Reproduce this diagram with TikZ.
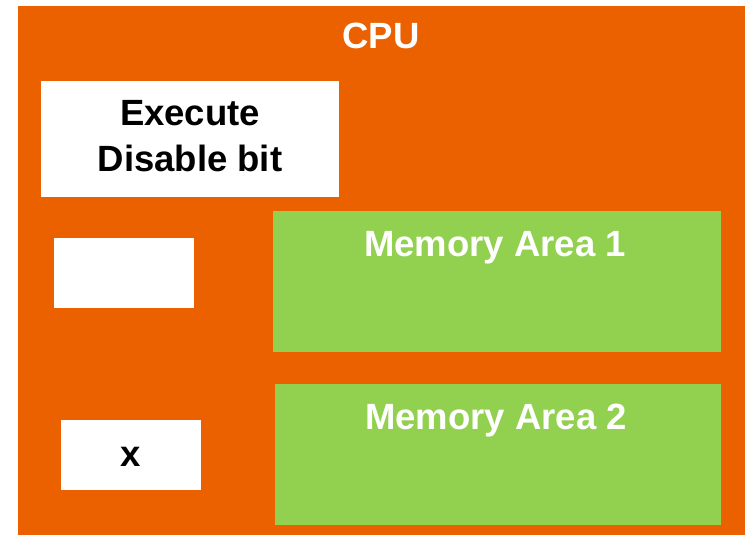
\documentclass[tikz,border=0pt]{standalone}
\usepackage{fontspec}
\setmainfont{Liberation Sans}
\usetikzlibrary{positioning}
\definecolor{cpuorange}{RGB}{235, 97, 0}
\definecolor{memgreen}{RGB}{146, 208, 80}

\begin{document}
\begin{tikzpicture}[
    x=1pt, y=-1pt,
    area/.style={rectangle, inner sep=0pt, outer sep=0pt},
    bitbox/.style={area, fill=white, minimum width=140pt, minimum height=70pt},
    membox/.style={area, fill=memgreen, minimum height=141pt},
    bittext/.style={inner sep=0pt, align=center, font=\fontsize{36.5}{45.5}\selectfont\bfseries},
    title/.style={anchor=base, inner sep=0pt, text=white, font=\fontsize{36.5}{44}\selectfont\bfseries}
]
    \useasboundingbox[fill=white] (0, 0) rectangle (748, 538);

    % CPU
    \node[area, fill=cpuorange, minimum width=727pt, minimum height=529pt] (cpu) at (381.5, 270.5) {};
    \node[title] (cpulabel) at (381, 48) {CPU};

    % Bits
    \node[bitbox, minimum width=298pt, minimum height=116pt] (xdbit) at (190, 139) {};
    \node[bittext, yshift=3pt] (xdlabel) at (xdbit) {Execute\\Disable bit};
    \node[bitbox] (blank) at (124, 273) {};
    \node[bitbox] (xbit) at (131, 455) {};
    \node[bittext] (xlabel) at (131, 457) {x};

    % Memory
    \node[membox, minimum width=448pt] (mem1) at (497, 281.5) {};
    \node[membox, minimum width=446pt] (mem2) at (498, 454.5) {};
    \node[title] (mem1label) at (495, 256) {Memory Area 1};
    \node[title] (mem2label) at (496, 429) {Memory Area 2};
\end{tikzpicture}
\end{document}
